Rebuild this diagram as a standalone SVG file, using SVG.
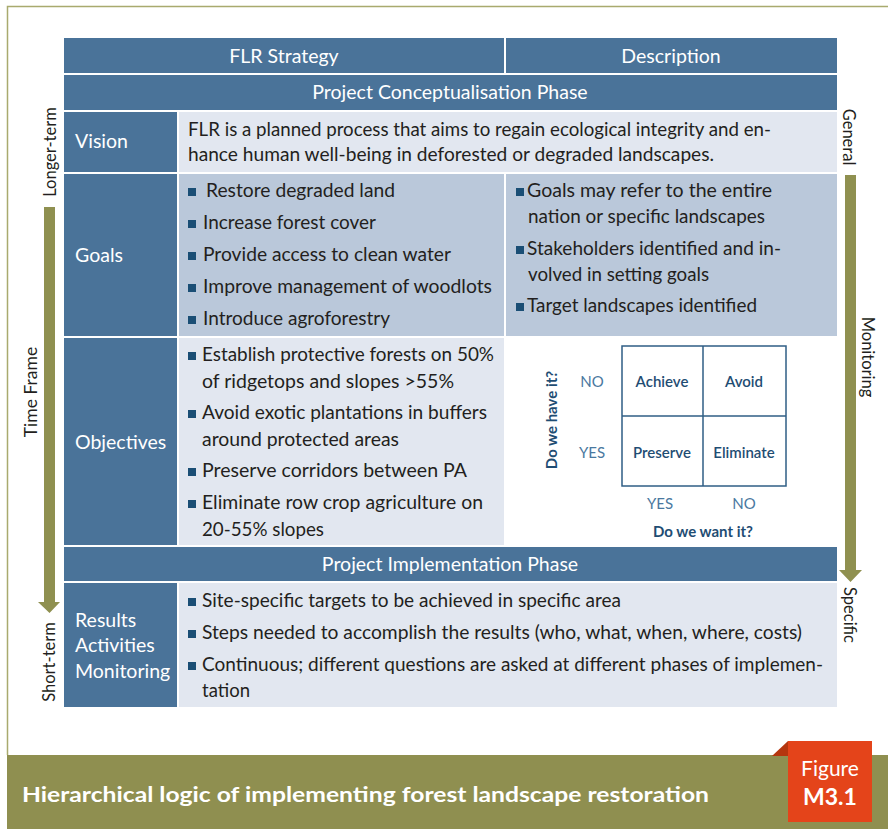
<svg xmlns="http://www.w3.org/2000/svg" width="888" height="829" viewBox="0 0 888 829">
<style>
  .dark { fill: #4a7399; }
  .light { fill: #e2e7f0; }
  .mid { fill: #bac8da; }
  .hdr { font-family: Lato, "Open Sans", sans-serif; font-size: 19.5px; fill: #ffffff; }
  .lbl { font-family: Lato, "Open Sans", sans-serif; font-size: 19.5px; fill: #ffffff; }
  .body { font-family: Lato, "Open Sans", sans-serif; font-size: 19.5px; fill: #231f20; }
  .side { font-family: Lato, "Open Sans", sans-serif; font-size: 16.5px; fill: #231f20; }
  .bul { fill: #1a4e75; }
  .mx { font-family: Lato, "Open Sans", sans-serif; font-size: 15px; font-weight: 600; fill: #1f4d73; }
  .yn { font-family: Lato, "Open Sans", sans-serif; font-size: 15px; fill: #4a78a0; }
  .ax { font-family: Lato, "Open Sans", sans-serif; font-size: 15px; font-weight: bold; fill: #1f4d73; }
  .arrow { fill: #8f9050; }
</style>
<rect width="888" height="829" fill="#ffffff"/>
<!-- outer frame -->
<g id="frame">
  <path d="M7.5 755 V6.5 H888" fill="none" stroke="#a9aa6e" stroke-width="1.5"/>
</g>

<!-- header rows -->
<g id="header">
  <rect class="dark" x="64" y="38" width="440" height="35"/>
  <rect class="dark" x="506" y="38" width="331" height="35"/>
  <text class="hdr" x="284" y="63" text-anchor="middle">FLR Strategy</text>
  <text class="hdr" x="671" y="63" text-anchor="middle">Description</text>
</g>
<g id="phase1">
  <rect class="dark" x="64" y="75" width="773" height="35"/>
  <text class="hdr" x="450" y="99" text-anchor="middle">Project Conceptualisation Phase</text>
</g>

<g id="vision">
  <rect class="dark" x="64" y="112" width="113" height="60"/>
  <rect class="light" x="179" y="112" width="658" height="60"/>
  <text class="lbl" x="75" y="148">Vision</text>
  <text class="body" x="188" y="136" textLength="583" lengthAdjust="spacingAndGlyphs">FLR is a planned process that aims to regain ecological integrity and en-</text>
  <text class="body" x="188" y="161" textLength="526" lengthAdjust="spacingAndGlyphs">hance human well-being in deforested or degraded landscapes.</text>
</g>

<g id="goals">
  <rect class="dark" x="64" y="174" width="113" height="162"/>
  <rect class="mid" x="179" y="174" width="325" height="162"/>
  <rect class="mid" x="506" y="174" width="331" height="162"/>
  <text class="lbl" x="75" y="262">Goals</text>
  <rect class="bul" x="188" y="188" width="8" height="8"/>
  <text class="body" x="206" y="197" textLength="189" lengthAdjust="spacingAndGlyphs">Restore degraded land</text>
  <rect class="bul" x="188" y="220" width="8" height="8"/>
  <text class="body" x="203" y="229" textLength="173" lengthAdjust="spacingAndGlyphs">Increase forest cover</text>
  <rect class="bul" x="188" y="252" width="8" height="8"/>
  <text class="body" x="203" y="261" textLength="248" lengthAdjust="spacingAndGlyphs">Provide access to clean water</text>
  <rect class="bul" x="188" y="284" width="8" height="8"/>
  <text class="body" x="203" y="293" textLength="289" lengthAdjust="spacingAndGlyphs">Improve management of woodlots</text>
  <rect class="bul" x="188" y="316" width="8" height="8"/>
  <text class="body" x="203" y="325" textLength="187" lengthAdjust="spacingAndGlyphs">Introduce agroforestry</text>

  <rect class="bul" x="516" y="188" width="8" height="8"/>
  <text class="body" x="527" y="197" textLength="245" lengthAdjust="spacingAndGlyphs">Goals may refer to the entire</text>
  <text class="body" x="528" y="223" textLength="237" lengthAdjust="spacingAndGlyphs">nation or specific landscapes</text>
  <rect class="bul" x="516" y="246" width="8" height="8"/>
  <text class="body" x="527" y="255" textLength="254" lengthAdjust="spacingAndGlyphs">Stakeholders identified and in-</text>
  <text class="body" x="528" y="281" textLength="181" lengthAdjust="spacingAndGlyphs">volved in setting goals</text>
  <rect class="bul" x="516" y="303" width="8" height="8"/>
  <text class="body" x="527" y="312" textLength="230" lengthAdjust="spacingAndGlyphs">Target landscapes identified</text>
</g>

<g id="objectives">
  <rect class="dark" x="64" y="338" width="113" height="207"/>
  <rect class="light" x="179" y="338" width="325" height="207"/>
  <text class="lbl" x="75" y="449">Objectives</text>
  <rect class="bul" x="188" y="352" width="8" height="8"/>
  <text class="body" x="202" y="361" textLength="292" lengthAdjust="spacingAndGlyphs">Establish protective forests on 50%</text>
  <text class="body" x="202" y="388" textLength="252" lengthAdjust="spacingAndGlyphs">of ridgetops and slopes &gt;55%</text>
  <rect class="bul" x="188" y="410" width="8" height="8"/>
  <text class="body" x="202" y="419" textLength="285" lengthAdjust="spacingAndGlyphs">Avoid exotic plantations in buffers</text>
  <text class="body" x="202" y="446" textLength="197" lengthAdjust="spacingAndGlyphs">around protected areas</text>
  <rect class="bul" x="188" y="468" width="8" height="8"/>
  <text class="body" x="202" y="477" textLength="265" lengthAdjust="spacingAndGlyphs">Preserve corridors between PA</text>
  <rect class="bul" x="188" y="500" width="8" height="8"/>
  <text class="body" x="202" y="509" textLength="281" lengthAdjust="spacingAndGlyphs">Eliminate row crop agriculture on</text>
  <text class="body" x="202" y="536" textLength="122" lengthAdjust="spacingAndGlyphs">20-55% slopes</text>
</g>

<g id="matrix">
  <rect x="622" y="346" width="164" height="140" fill="none" stroke="#2f5e85" stroke-width="1.5"/>
  <line x1="703" y1="346" x2="703" y2="486" stroke="#2f5e85" stroke-width="1.5"/>
  <line x1="622" y1="416" x2="786" y2="416" stroke="#2f5e85" stroke-width="1.5"/>
  <text class="mx" x="662" y="387" text-anchor="middle">Achieve</text>
  <text class="mx" x="744" y="387" text-anchor="middle">Avoid</text>
  <text class="mx" x="662" y="458" text-anchor="middle">Preserve</text>
  <text class="mx" x="744" y="458" text-anchor="middle">Eliminate</text>
  <text class="yn" x="592" y="387" text-anchor="middle">NO</text>
  <text class="yn" x="592" y="458" text-anchor="middle">YES</text>
  <text class="yn" x="660" y="509" text-anchor="middle">YES</text>
  <text class="yn" x="744" y="509" text-anchor="middle">NO</text>
  <text class="ax" x="703" y="537" text-anchor="middle">Do we want it?</text>
  <text class="ax" transform="translate(557,420) rotate(-90)" text-anchor="middle">Do we have it?</text>
</g>

<g id="phase2">
  <rect class="dark" x="64" y="547" width="773" height="34"/>
  <text class="hdr" x="450" y="571" text-anchor="middle">Project Implementation Phase</text>
</g>

<g id="results">
  <rect class="dark" x="64" y="583" width="113" height="124"/>
  <rect class="light" x="179" y="583" width="658" height="124"/>
  <text class="lbl" x="75" y="627">Results</text>
  <text class="lbl" x="75" y="652">Activities</text>
  <text class="lbl" x="75" y="678">Monitoring</text>
  <rect class="bul" x="188" y="598" width="8" height="8"/>
  <text class="body" x="202" y="607" textLength="419" lengthAdjust="spacingAndGlyphs">Site-specific targets to be achieved in specific area</text>
  <rect class="bul" x="188" y="630" width="8" height="8"/>
  <text class="body" x="202" y="639" textLength="600" lengthAdjust="spacingAndGlyphs">Steps needed to accomplish the results (who, what, when, where, costs)</text>
  <rect class="bul" x="188" y="662" width="8" height="8"/>
  <text class="body" x="202" y="671" textLength="621" lengthAdjust="spacingAndGlyphs">Continuous; different questions are asked at different phases of implemen-</text>
  <text class="body" x="202" y="697" textLength="48" lengthAdjust="spacingAndGlyphs">tation</text>
</g>

<g id="connectors">
  <path class="arrow" d="M44 207 H55 V602 H60 L49.5 613 L38 602 H44 Z"/>
  <path class="arrow" d="M845 175 H856 V570 H862 L850.5 582 L839 570 H845 Z"/>
</g>

<g id="side-labels">
  <text class="side" transform="translate(56,152) rotate(-90)" text-anchor="middle">Longer-term</text>
  <text class="side" transform="translate(37,392) rotate(-90)" text-anchor="middle" style="font-size:17.5px">Time Frame</text>
  <text class="side" transform="translate(55,662) rotate(-90)" text-anchor="middle">Short-term</text>
  <text class="side" transform="translate(843,137) rotate(90)" text-anchor="middle">General</text>
  <text class="side" transform="translate(862,357) rotate(90)" text-anchor="middle">Monitoring</text>
  <text class="side" transform="translate(844,615) rotate(90)" text-anchor="middle">Specific</text>
</g>

<g id="caption">
  <rect x="7" y="755" width="881" height="74" fill="#8f8f50"/>
  <text x="22" y="802" textLength="687" lengthAdjust="spacingAndGlyphs" style="font-family: Lato, 'Open Sans', sans-serif; font-size: 21px; font-weight: bold; fill: #ffffff;">Hierarchical logic of implementing forest landscape restoration</text>
</g>

<g id="figure-tag">
  <polygon points="772,756 788,741 788,756" fill="#b5360f"/>
  <rect x="788" y="741" width="84" height="81" fill="#e4441a"/>
  <text x="830" y="776" text-anchor="middle" style="font-family: Lato, 'Open Sans', sans-serif; font-size: 21px; fill: #ffffff;">Figure</text>
  <text x="830" y="805" text-anchor="middle" style="font-family: Lato, 'Open Sans', sans-serif; font-size: 23px; font-weight: bold; fill: #ffffff;">M3.1</text>
</g>
</svg>
